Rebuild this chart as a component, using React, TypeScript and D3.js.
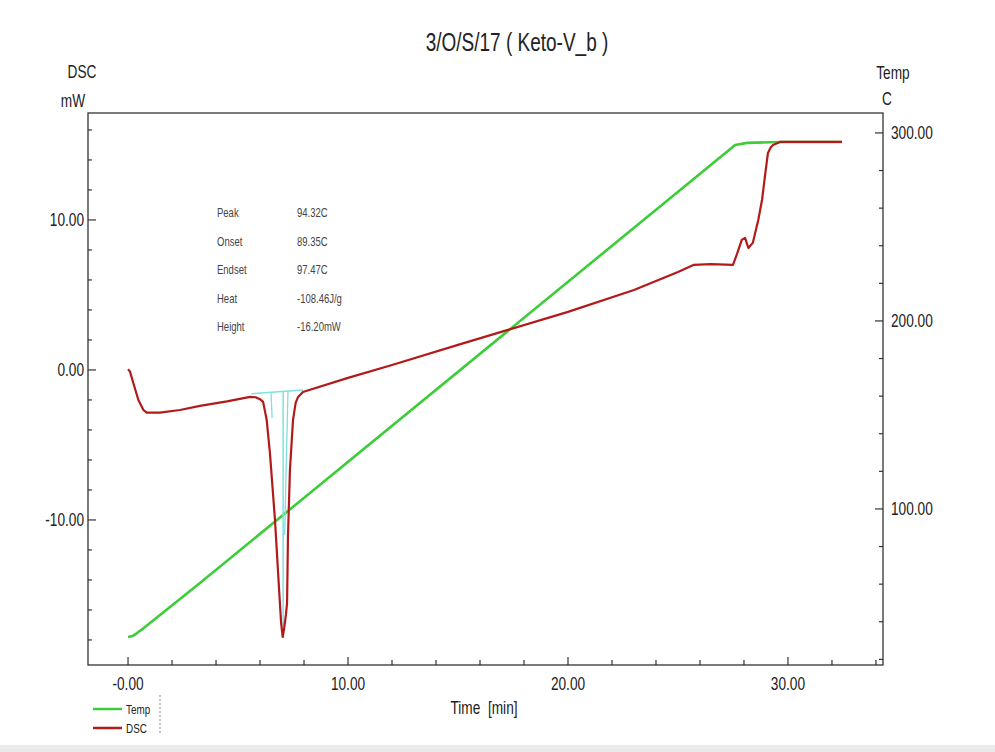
import React from "react";
import * as d3 from "d3";

// ---- data ----
const dscTime = [0.0, 0.09, 0.24, 0.47, 0.7, 0.85, 1.45, 2.36, 3.27, 4.5, 5.55, 5.8, 6.0, 6.14, 6.3, 6.45, 6.68, 6.86, 6.96, 7.03, 7.1, 7.18, 7.23, 7.27, 7.36, 7.5, 7.62, 7.73, 7.95, 10.0, 12.0, 15.0, 17.27, 20.0, 23.0, 25.0, 25.7, 26.5, 27.5, 27.7, 27.9, 28.05, 28.2, 28.4, 28.65, 28.82, 28.95, 29.09, 29.22, 29.32, 29.64, 32.45];
const dscValue = [0.05, -0.11, -0.87, -2.0, -2.67, -2.85, -2.85, -2.67, -2.4, -2.1, -1.8, -1.82, -1.95, -2.13, -3.3, -5.53, -10.0, -14.47, -16.9, -17.8, -17.2, -16.3, -15.53, -11.13, -6.67, -3.33, -2.2, -1.8, -1.47, -0.53, 0.33, 1.67, 2.67, 3.87, 5.33, 6.53, 7.0, 7.05, 7.0, 7.8, 8.67, 8.8, 8.13, 8.47, 10.0, 11.33, 12.87, 14.47, 14.85, 15.0, 15.2, 15.2];

const tempTime = [0.0, 0.2, 0.41, 0.7, 1.0, 3.27, 27.6, 28.14, 29.64, 32.45];
const tempValue = [31.9, 32.4, 34.0, 36.5, 39.4, 60.6, 293.6, 294.7, 295.2, 295.2];

const peakLabels = ["Peak", "Onset", "Endset", "Heat", "Height"];
const peakValues = ["94.32C", "89.35C", "97.47C", "-108.46J/g", "-16.20mW"];

// peak analysis helper lines (time, mW)
const baselineT = [5.6, 7.95];
const baselineV = [-1.72, -1.47];

const xMajor = [0, 10, 20, 30];
const xMajorLabels = ["-0.00", "10.00", "20.00", "30.00"];
const yLMajor = [-10, 0, 10];
const yLMajorLabels = ["-10.00", "0.00", "10.00"];
const yRMajor = [100, 200, 300];
const yRMajorLabels = ["100.00", "200.00", "300.00"];

const SX = 0.76;
const FONT = "'Liberation Sans', Arial, sans-serif";

function T({ x, y, size, anchor = "start", fill = "#222", children }: any) {
  return (
    <g transform={`translate(${x},${y}) scale(${SX},1)`}>
      <text x={0} y={0} fontSize={size} fontFamily={FONT} textAnchor={anchor} fill={fill} style={{ whiteSpace: "pre" }}>
        {children}
      </text>
    </g>
  );
}

export default function App() {
  const left = 88, right = 883, top = 113, bottom = 665;
  const x = d3.scaleLinear().domain([-1.82, 34.32]).range([left, right]);
  const yL = d3.scaleLinear().domain([-19.67, 17.13]).range([bottom, top]);
  const yR = d3.scaleLinear().domain([17.0, 310.6]).range([bottom, top]);

  const dscData = dscTime.map((t, i) => [t, dscValue[i]] as [number, number]);
  const tempData = tempTime.map((t, i) => [t, tempValue[i]] as [number, number]);

  const dscLine = d3.line<[number, number]>().x(d => x(d[0])).y(d => yL(d[1])).curve(d3.curveLinear);
  const tempLine = d3.line<[number, number]>().x(d => x(d[0])).y(d => yR(d[1])).curve(d3.curveLinear);

  const xMinor = d3.range(0, 35, 2);
  const yLMinor = d3.range(-18, 17, 2);
  const yRMinor = d3.range(20, 310, 20);

  const bl = (t: number) => baselineV[0] + (baselineV[1] - baselineV[0]) * (t - baselineT[0]) / (baselineT[1] - baselineT[0]);

  return (
    <svg width={995} height={752} style={{ position: "absolute", left: 0, top: 0, background: "#fff" }}>
      <defs>
        <clipPath id="plot">
          <rect x={left} y={top} width={right - left} height={bottom - top} />
        </clipPath>
      </defs>
      <rect x={0} y={0} width={995} height={752} fill="#fff" />
      <rect x={0} y={745} width={995} height={7} fill="#ebebeb" />

      {/* title */}
      <T x={517} y={51} size={25} anchor="middle">3/O/S/17 ( Keto-V_b )</T>

      {/* axis titles */}
      <T x={82} y={78} size={18} anchor="middle">DSC</T>
      <T x={73} y={107} size={18} anchor="middle">mW</T>
      <T x={893} y={79} size={18} anchor="middle">Temp</T>
      <T x={887} y={105} size={18} anchor="middle">C</T>

      {/* frame */}
      <rect x={left} y={top} width={right - left} height={bottom - top} fill="none" stroke="#333" strokeWidth={1.3} />

      {/* bottom ticks */}
      {xMinor.map(v => (
        <line key={"xm" + v} x1={x(v)} x2={x(v)} y1={bottom} y2={bottom - (v % 10 === 0 ? 8 : 5)} stroke="#333" strokeWidth={1.2} />
      ))}
      {xMajor.map((v, i) => (
        <T key={"xl" + v} x={x(v)} y={690} size={18} anchor="middle">{xMajorLabels[i]}</T>
      ))}
      <T x={484} y={714} size={18} anchor="middle">{"Time  [min]"}</T>

      {/* left ticks */}
      {yLMinor.map(v => (
        <line key={"ylm" + v} x1={left} x2={left + (v % 10 === 0 ? 8 : 4)} y1={yL(v)} y2={yL(v)} stroke="#333" strokeWidth={1.2} />
      ))}
      {yLMajor.map((v, i) => (
        <T key={"yll" + v} x={84} y={yL(v) + 6} size={18} anchor="end">{yLMajorLabels[i]}</T>
      ))}

      {/* right ticks */}
      {yRMinor.map(v => (
        <line key={"yrm" + v} x1={right} x2={right - (v % 100 === 0 ? 8 : 4)} y1={yR(v)} y2={yR(v)} stroke="#333" strokeWidth={1.2} />
      ))}
      {yRMajor.map((v, i) => (
        <T key={"yrl" + v} x={891} y={yR(v) + 6} size={18} anchor="start">{yRMajorLabels[i]}</T>
      ))}

      {/* peak info */}
      {peakLabels.map((l, i) => (
        <g key={"pk" + i}>
          <T x={217} y={217 + i * 28.5} size={12.5} fill="#444">{l}</T>
          <T x={297} y={217 + i * 28.5} size={12.5} fill="#444">{peakValues[i]}</T>
        </g>
      ))}

      <g clipPath="url(#plot)">
        {/* temp */}
        <path d={tempLine(tempData) || ""} fill="none" stroke="#3dcc3a" strokeWidth={2.6} strokeLinejoin="round" />
        {/* peak analysis lines */}
        <line x1={x(baselineT[0])} y1={yL(baselineV[0]) - 2} x2={x(baselineT[1])} y2={yL(baselineV[1]) - 2} stroke="#7fe0e0" strokeWidth={1.5} />
        <line x1={x(7.05)} y1={yL(bl(7.05)) - 2} x2={x(7.05)} y2={yL(-17.6)} stroke="#7fe0e0" strokeWidth={1.5} />
        <line x1={x(7.27)} y1={yL(bl(7.27)) - 2} x2={x(7.12)} y2={yL(-11)} stroke="#7fe0e0" strokeWidth={1.3} />
        <line x1={x(6.5)} y1={yL(bl(6.5)) - 2} x2={x(6.55)} y2={yL(-3.2)} stroke="#7fe0e0" strokeWidth={1.3} />
        {/* dsc */}
        <path d={dscLine(dscData) || ""} fill="none" stroke="#b21a1a" strokeWidth={2.2} strokeLinejoin="round" />
      </g>

      {/* legend */}
      <line x1={93} x2={122} y1={709} y2={709} stroke="#3dcc3a" strokeWidth={2.5} />
      <T x={126} y={714} size={13}>Temp</T>
      <line x1={93} x2={122} y1={728} y2={728} stroke="#b21a1a" strokeWidth={2.5} />
      <T x={126} y={733} size={13}>DSC</T>
      <line x1={160} x2={160} y1={695} y2={735} stroke="#888" strokeWidth={1} strokeDasharray="2,2" />
    </svg>
  );
}
